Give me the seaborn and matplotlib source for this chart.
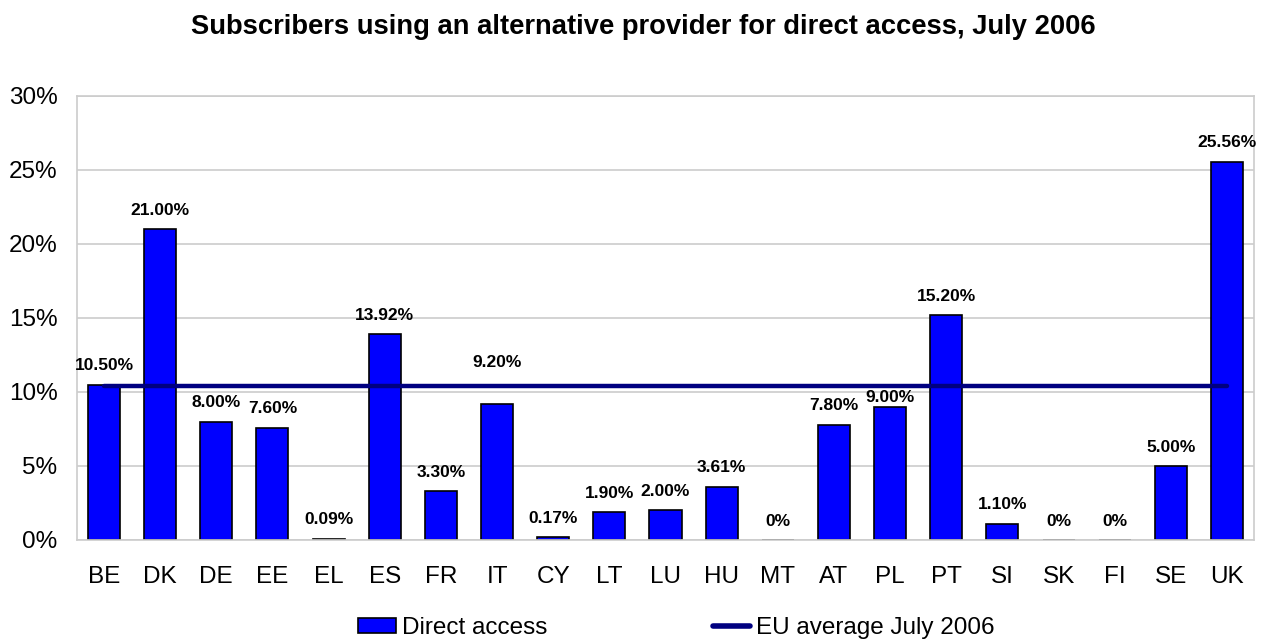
import matplotlib
matplotlib.use("Agg")
import matplotlib.pyplot as plt
import seaborn as sns
import numpy as np
import pandas as pd
from matplotlib.patches import Patch
from matplotlib.lines import Line2D

countries = ["BE", "DK", "DE", "EE", "EL", "ES", "FR", "IT", "CY", "LT", "LU",
             "HU", "MT", "AT", "PL", "PT", "SI", "SK", "FI", "SE", "UK"]
direct_access = [10.50, 21.00, 8.00, 7.60, 0.09, 13.92, 3.30, 9.20, 0.17, 1.90, 2.00,
                 3.61, 0.0, 7.80, 9.00, 15.20, 1.10, 0.0, 0.0, 5.00, 25.56]
eu_average = 10.4
title = "Subscribers using an alternative provider for direct access, July 2006"
yticks = [0, 5, 10, 15, 20, 25, 30]

sns.set_theme(style="white")
plt.rcParams["font.family"] = ["Liberation Sans", "DejaVu Sans"]
plt.rcParams["text.color"] = "black"

df = pd.DataFrame({"country": countries, "value": direct_access})

fig = plt.figure(figsize=(12.68, 6.42), dpi=100)
ax = fig.add_axes([77/1268, 1-540/642, (1254-77)/1268, (540-96)/642])

sns.barplot(data=df, x="country", y="value", order=countries, color="#0000FF",
            saturation=1, width=0.57, edgecolor="black", linewidth=1.2, ax=ax, zorder=2)

pos = np.arange(len(countries))
ax.plot(pos, [eu_average] * len(countries), color="#000080", linewidth=3.2,
        solid_capstyle="round", zorder=3)

ax.set_ylim(0, 30)
ax.set_xlim(-0.48, len(countries) - 0.52)
ax.set_yticks(yticks)
ax.set_yticklabels([f"{t}%" for t in yticks])
ax.yaxis.grid(True, color="#cccccc", linewidth=1.2, zorder=0)
ax.set_axisbelow(True)
for s in ax.spines.values():
    s.set_color("#cccccc")
    s.set_linewidth(1.2)
ax.set_xlabel("")
ax.set_ylabel("")
ax.tick_params(axis="both", labelsize=17.5, length=0, colors="black")
ax.tick_params(axis="x", pad=19)
ax.tick_params(axis="y", pad=14)

offsets = {"IT": 29.5, "PL": 6.5}
for i, (c, v) in enumerate(zip(countries, direct_access)):
    txt = "0%" if v == 0 else f"{v:.2f}%"
    ax.annotate(txt, (i, v), xytext=(0, offsets.get(c, 13.5)), textcoords="offset points",
                ha="center", va="center", fontsize=12.5, fontweight="bold", color="black",
                zorder=4)

fig.suptitle(title, x=(190+1097)/2/1268, y=1-27/642, va="center", fontsize=19.7,
             fontweight="bold", color="black")

handles = [Patch(facecolor="#0000FF", edgecolor="black", linewidth=1.2),
           Line2D([0], [0], color="#000080", linewidth=4, solid_capstyle="round")]
fig.legend(handles, ["Direct access", "EU average July 2006"], loc="center",
           bbox_to_anchor=((360+993)/2/1268, 1-628/642), ncol=2, frameon=False,
           fontsize=17.5, columnspacing=6.8, handlelength=1.55, handletextpad=0.25,
           handleheight=0.62, borderpad=0, borderaxespad=0)

fig.savefig("out.png", dpi=100)
